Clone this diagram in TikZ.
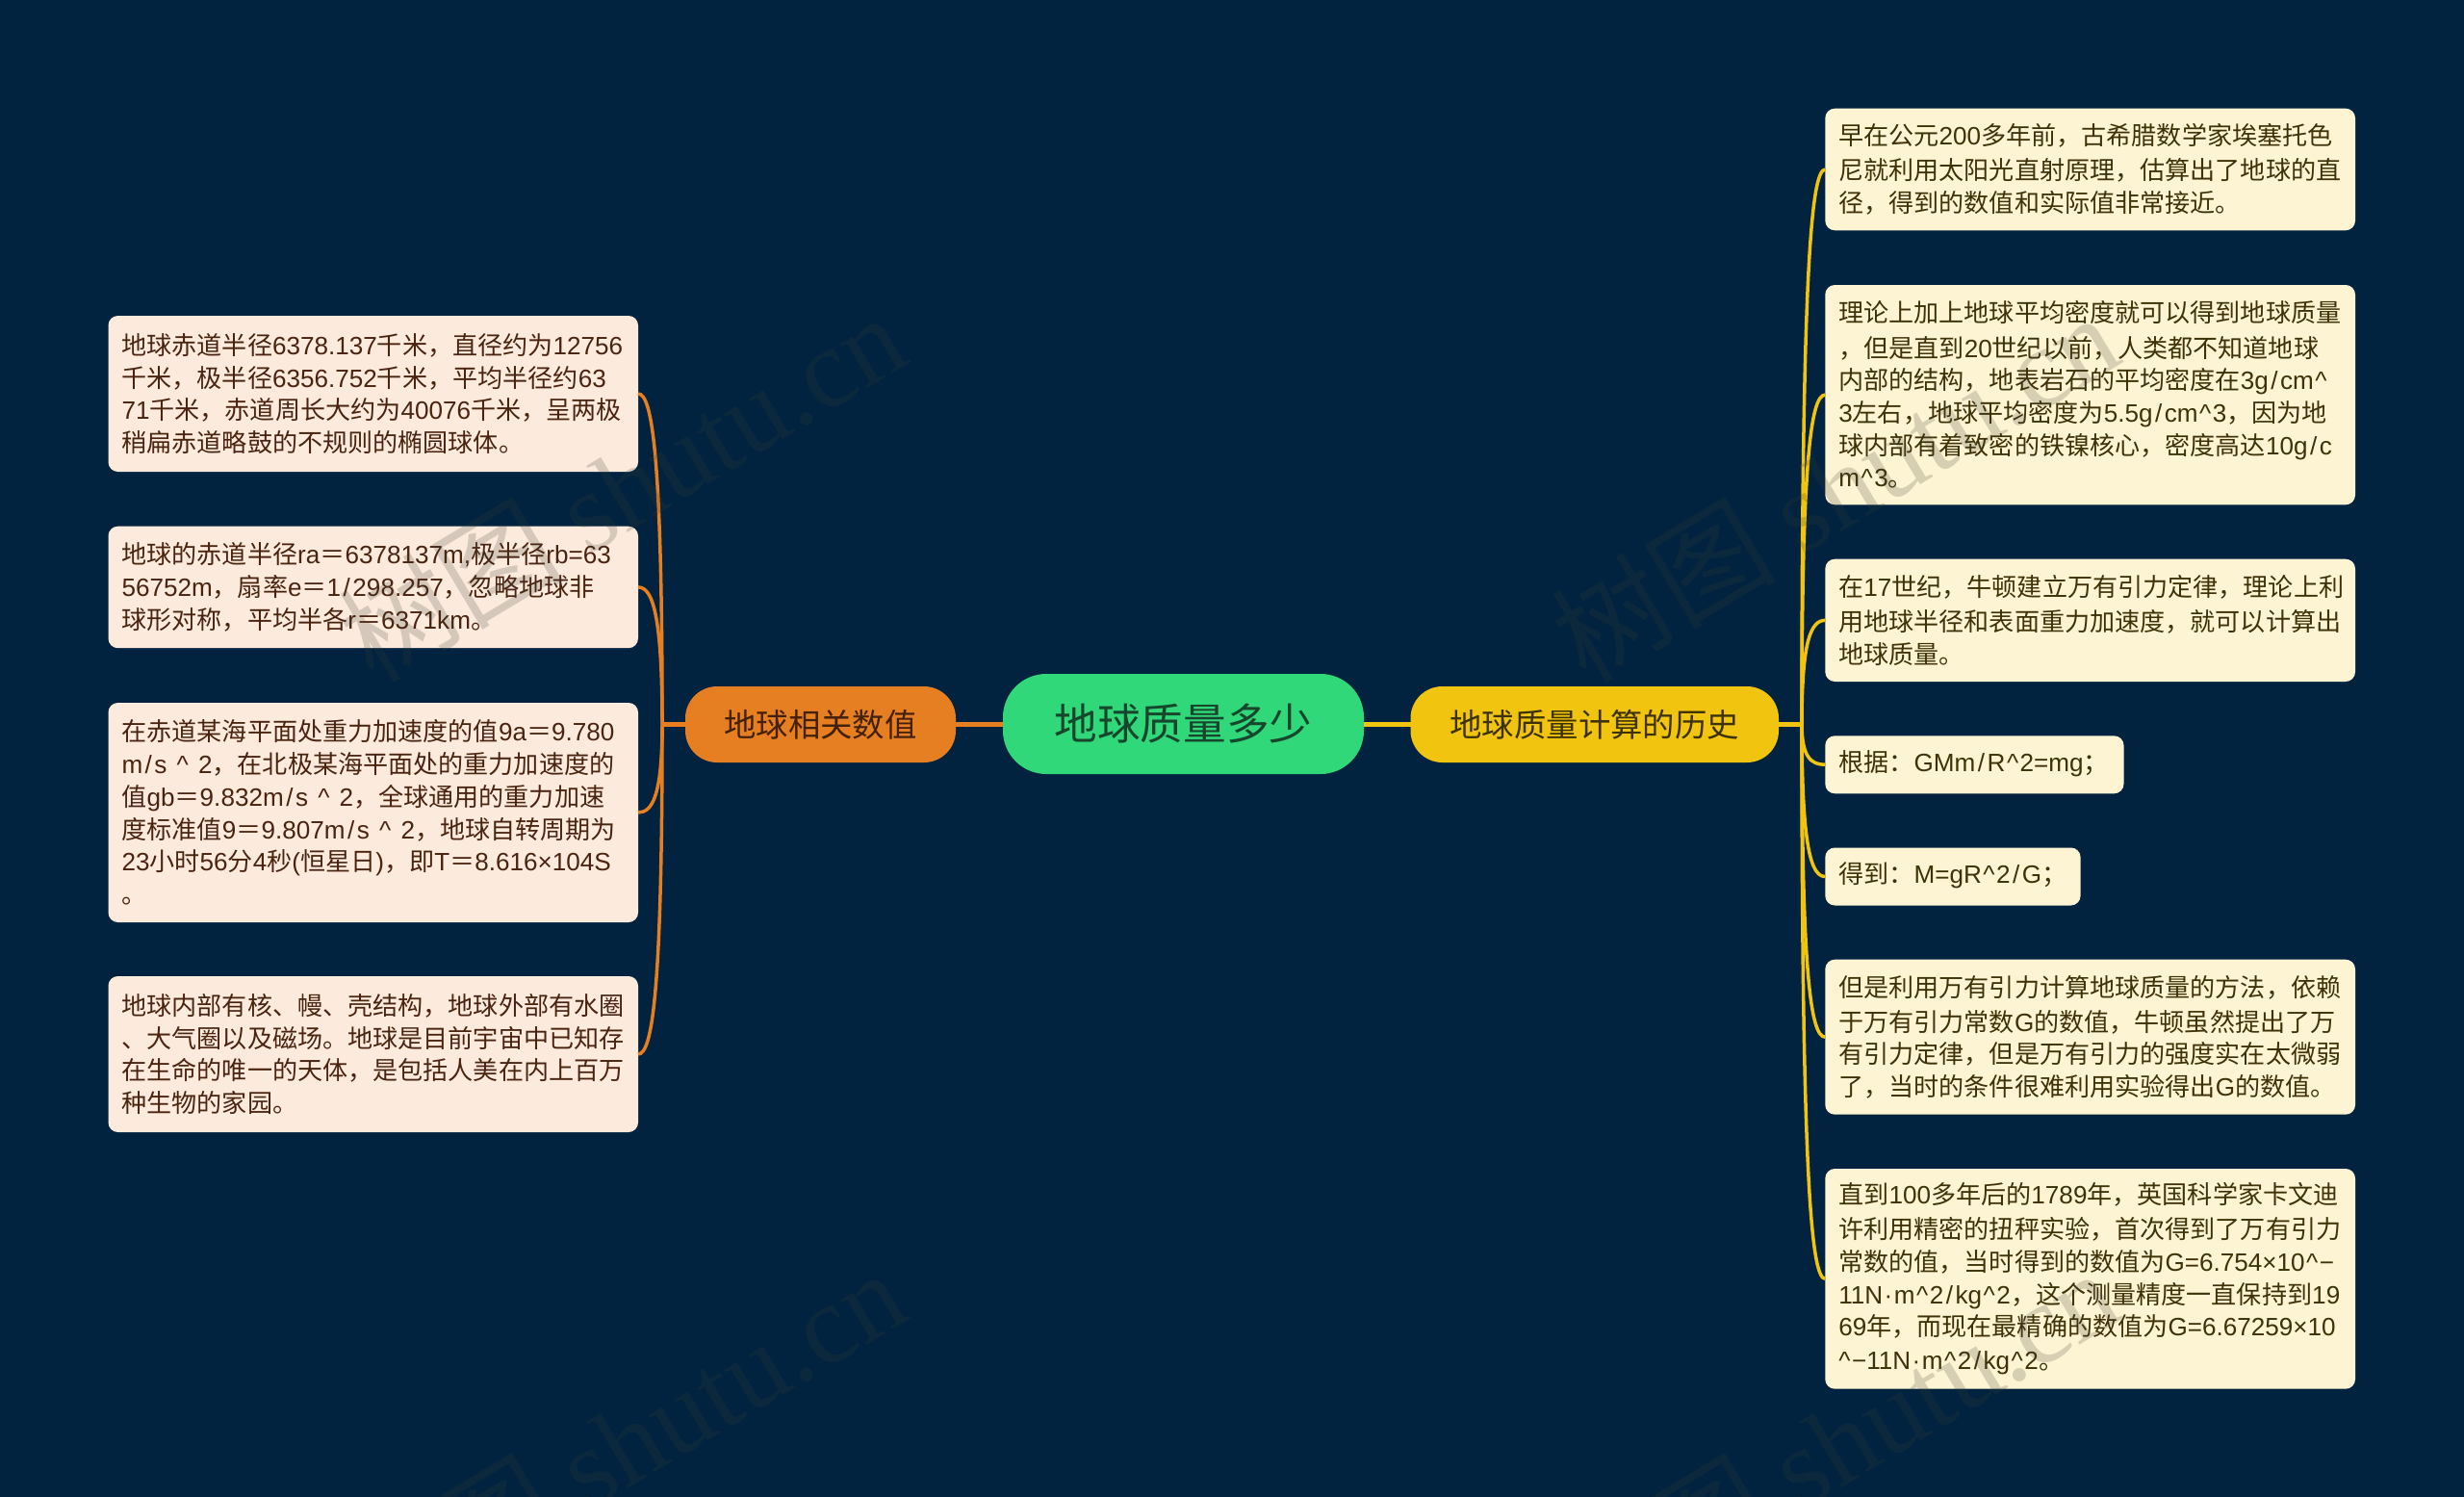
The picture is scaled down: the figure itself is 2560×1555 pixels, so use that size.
\documentclass[tikz,border=0pt]{standalone}
\usepackage{fontspec}
\usetikzlibrary{calc}
\setmainfont{Liberation Sans}
\newfontfamily\latf{Liberation Sans}
\newfontfamily\cjkf{Noto Sans CJK SC}
\newfontfamily\wmf{Liberation Serif}
\newcount\cjkloop
\newcommand\markcjk[2]{\cjkloop=#1\relax
  \loop\XeTeXcharclass\cjkloop=7\relax
  \ifnum\cjkloop<#2\advance\cjkloop by 1\repeat}
\markcjk{"3000}{"303F}
\markcjk{"4E00}{"9FFF}
\markcjk{"FF00}{"FFEF}
\XeTeXinterchartoks 0 7={\cjkf}
\XeTeXinterchartoks 7 0={\latf}
\XeTeXinterchartoks 4095 7={\cjkf}
\XeTeXinterchartoks 4095 0={\latf}
\XeTeXinterchartokenstate=1
\newcommand\ca{\kern1.5pt\textasciicircum\kern1.5pt}
\newcommand\sla{\kern2.5pt/\kern2.5pt}
\newcommand\dott{\kern1.5pt·\kern1.5pt}
\definecolor{bgc}{HTML}{01233F}
\definecolor{rootc}{HTML}{30D87A}
\definecolor{roott}{HTML}{17462D}
\definecolor{yelc}{HTML}{F1C40F}
\definecolor{yelt}{HTML}{3D3206}
\definecolor{orac}{HTML}{E67E22}
\definecolor{orat}{HTML}{43210A}
\definecolor{leafla}{HTML}{FCEBDC}
\definecolor{leaflt}{HTML}{4A2410}
\definecolor{leafra}{HTML}{FDF4D3}
\definecolor{leafrt}{HTML}{3F3208}
\definecolor{wmc}{HTML}{3C3C32}
\tikzset{
  leafbase/.style={anchor=north west,rectangle,rounded corners=10pt,outer sep=0pt,inner xsep=14pt,inner ysep=0pt,align=left,font=\fontsize{26.1}{33.7}\selectfont},
  leafl/.style={leafbase,fill=leafla,text=leaflt,text width=522.5pt},
  leafr/.style={leafbase,fill=leafra,text=leafrt,text width=522.7pt,execute at begin node={\vspace*{2.5pt}}},
  rootbox/.style={anchor=north west,rectangle,rounded corners=45pt,outer sep=0pt,fill=rootc,text=roott,font=\fontsize{44.6}{50}\selectfont},
  midbox/.style={anchor=north west,rectangle,rounded corners=33pt,outer sep=0pt,font=\fontsize{33.4}{40}\selectfont},
  olink/.style={draw=orac,line width=3.5pt},
  ylink/.style={draw=yelc,line width=3.5pt},
  wmark/.style={anchor=base west,rotate=31,inner sep=0pt,text=wmc,opacity=0.2,font=\fontsize{117}{120}\selectfont}
}
\newcommand\linkl[1]{\draw[olink] (#1.east) .. controls +(15,0) and ($(ltrunk |- #1.east)!0.2!(ltrunk)$) .. (ltrunk);}
\newcommand\linkr[1]{\draw[ylink] (#1.west) .. controls +(-15,0) and ($(rtrunk |- #1.west)!0.2!(rtrunk)$) .. (rtrunk);}
\begin{document}
\begin{tikzpicture}[x=1pt,y=-1pt]
\clip (0,0) rectangle (2560,1555);
\fill[bgc] (0,0) rectangle (2560,1555);
\node[rootbox,minimum width=375pt,minimum height=104pt] (root) at (1042,700) {地球质量多少};
\node[midbox,fill=orac,text=orat,minimum width=281pt,minimum height=79pt] (ora) at (712,713) {地球相关数值};
\node[midbox,fill=yelc,text=yelt,minimum width=382.5pt,minimum height=79pt] (yel) at (1465.5,713) {地球质量计算的历史};
\coordinate (ltrunk) at (688,752.3);
\coordinate (rtrunk) at (1872,752.3);
% left leaves
\node[leafl,minimum width=550.5pt,minimum height=162pt] (l1) at (112.5,328) {地球赤道半径6378.137千米，直径约为12756\\千米，极半径6356.752千米，平均半径约63\\71千米，赤道周长大约为40076千米，呈两极\\稍扁赤道略鼓的不规则的椭圆球体。};
\node[leafl,minimum width=550.5pt,minimum height=126.5pt] (l2) at (112.5,546.7) {地球的赤道半径ra＝6378137m,极半径rb=63\\56752m，扇率e＝1\sla 298.257，忽略地球非\\球形对称，平均半各r＝6371km。};
\node[leafl,minimum width=550.5pt,minimum height=228pt] (l3) at (112.5,730) {在赤道某海平面处重力加速度的值9a＝9.780\\m\sla s~\ca~2，在北极某海平面处的重力加速度的\\值gb＝9.832m\sla s~\ca~2，全球通用的重力加速\\度标准值9＝9.807m\sla s~\ca~2，地球自转周期为\\23小时56分4秒(恒星日)，即T＝8.616×104S\\。};
\node[leafl,minimum width=550.5pt,minimum height=162pt] (l4) at (112.5,1014) {地球内部有核、幔、壳结构，地球外部有水圈\\、大气圈以及磁场。地球是目前宇宙中已知存\\在生命的唯一的天体，是包括人美在内上百万\\种生物的家园。};
% right leaves
\node[leafr,minimum width=550.7pt,minimum height=126.6pt] (r1) at (1896.3,112.7) {早在公元200多年前，古希腊数学家埃塞托色\\尼就利用太阳光直射原理，估算出了地球的直\\径，得到的数值和实际值非常接近。};
\node[leafr,minimum width=550.7pt,minimum height=228.3pt] (r2) at (1896.3,296) {理论上加上地球平均密度就可以得到地球质量\\，但是直到20世纪以前，人类都不知道地球\\内部的结构，地表岩石的平均密度在3g\sla cm\ca\\3左右，地球平均密度为5.5g\sla cm\ca 3，因为地\\球内部有着致密的铁镍核心，密度高达10g\sla c\\m\ca 3。};
\node[leafr,minimum width=550.7pt,minimum height=127.3pt] (r3) at (1896.3,580.7) {在17世纪，牛顿建立万有引力定律，理论上利\\用地球半径和表面重力加速度，就可以计算出\\地球质量。};
\node[leafbase,fill=leafra,text=leafrt,text width=282.2pt,minimum width=310.2pt,minimum height=60pt,execute at begin node={\vspace*{2.5pt}}] (r4) at (1896.3,764.3) {根据：GMm\sla R\ca 2=mg；};
\node[leafbase,fill=leafra,text=leafrt,text width=237.3pt,minimum width=265.3pt,minimum height=60pt,execute at begin node={\vspace*{2.5pt}}] (r5) at (1896.3,880.5) {得到：M=gR\ca 2\sla G；};
\node[leafr,minimum width=550.7pt,minimum height=161pt] (r6) at (1896.3,996.7) {但是利用万有引力计算地球质量的方法，依赖\\于万有引力常数G的数值，牛顿虽然提出了万\\有引力定律，但是万有引力的强度实在太微弱\\了，当时的条件很难利用实验得出G的数值。};
\node[leafr,minimum width=550.7pt,minimum height=228.7pt] (r7) at (1896.3,1214) {直到100多年后的1789年，英国科学家卡文迪\\许利用精密的扭秤实验，首次得到了万有引力\\常数的值，当时得到的数值为G=6.754×10\ca −\\11N\dott m\ca 2\sla kg\ca 2，这个测量精度一直保持到19\\69年，而现在最精确的数值为G=6.67259×10\\\ca −11N\dott m\ca 2\sla kg\ca 2。};
% connectors
\draw[olink,line width=4.5pt] (root.west |- 0,752.3) -- (ora.east |- 0,752.3);
\draw[olink,line width=4.5pt] (ora.west |- 0,752.3) -- (ltrunk);
\draw[ylink,line width=4.5pt] (root.east |- 0,752.3) -- (yel.west |- 0,752.3);
\draw[ylink,line width=4.5pt] (yel.east |- 0,752.3) -- (rtrunk);
\linkl{l1}\linkl{l2}\linkl{l3}\linkl{l4}
\linkr{r1}\linkr{r2}\linkr{r3}\linkr{r4}\linkr{r5}\linkr{r6}\linkr{r7}
% watermark
\node[wmark] (wm1) at (388,712) {\XeTeXinterchartokenstate=0 \cjkf 树图 \wmf shutu.cn};
\node[wmark] (wm2) at (1648,712) {\XeTeXinterchartokenstate=0 \cjkf 树图 \wmf shutu.cn};
\node[wmark] (wm3) at (388,1705) {\XeTeXinterchartokenstate=0 \cjkf 树图 \wmf shutu.cn};
\node[wmark] (wm4) at (1648,1705) {\XeTeXinterchartokenstate=0 \cjkf 树图 \wmf shutu.cn};
\end{tikzpicture}
\end{document}
